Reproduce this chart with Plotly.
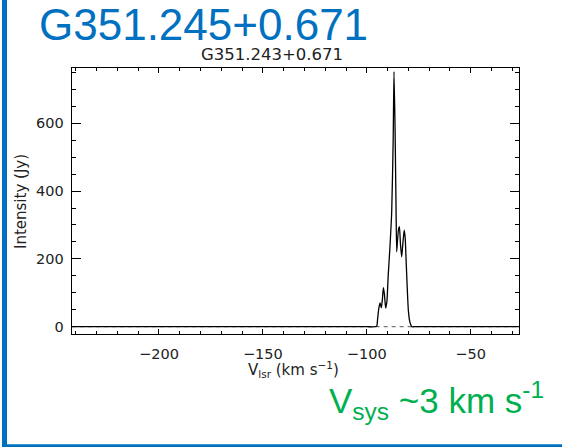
import plotly.graph_objects as go

# ---- data ----
velocity = [-242.0, -200.0, -150.0, -120.0, -100.0, -96.0, -95.2, -94.8, -94.2, -93.6,
            -93.0, -92.5, -92.0, -91.5, -90.9, -90.3, -89.7, -88.8, -88.0, -87.3,
            -86.9, -86.4, -85.9, -85.6, -85.2, -84.7, -84.3, -83.8, -83.2, -82.7,
            -82.0, -81.5, -81.1, -80.5, -80.0, -79.4, -78.8, -78.3, -77.0, -60.0,
            -40.0, -26.6]
intensity = [0.0, 0.0, 0.0, 0.0, 0.0, 0.0, 2.0, 22.0, 55.0, 70.0,
             56.0, 80.0, 115.0, 95.0, 55.0, 75.0, 150.0, 240.0, 340.0, 550.0,
             752.0, 590.0, 344.0, 221.0, 255.0, 288.0, 295.0, 245.0, 206.0, 240.0,
             285.0, 260.0, 200.0, 110.0, 49.0, 18.0, 5.0, 0.0, 0.0, 0.0,
             0.0, 0.0]
x_tickvals = [-200, -150, -100, -50]
x_ticktext = ["\u2212200", "\u2212150", "\u2212100", "\u221250"]
y_tickvals = [0, 200, 400, 600]
y_ticktext = ["0", "200", "400", "600"]
x_range = [-242.0, -26.6]
y_range = [-22.4, 762.0]

W, H = 562, 447
def px(x):
    return x / W
def py(y):
    return 1 - y / H

fig = go.Figure()
fig.add_trace(go.Scatter(x=x_range, y=[0, 0], mode="lines",
                         line=dict(color="#555555", width=1, dash="4px,4px"),
                         hoverinfo="skip", showlegend=False))
fig.add_trace(go.Scatter(x=velocity, y=intensity, mode="lines",
                         line=dict(color="black", width=1.3, shape="spline", smoothing=0.6),
                         showlegend=False))

tickfont = dict(family="DejaVu Sans", size=14.5, color="#222222")
fig.update_layout(
    width=W, height=H,
    margin=dict(l=0, r=0, t=0, b=0),
    paper_bgcolor="white", plot_bgcolor="white",
    xaxis=dict(domain=[px(71.7), px(519.3)], range=x_range, automargin=False,
               tickmode="array", tickvals=x_tickvals, ticktext=x_ticktext,
               ticks="inside", ticklen=5, tickwidth=1, tickcolor="black",
               minor=dict(tickmode="linear", tick0=0, dtick=10, ticks="inside",
                          ticklen=3, tickwidth=1, tickcolor="black"),
               showline=True, linecolor="black", linewidth=1, mirror="ticks",
               showgrid=False, zeroline=False, tickfont=tickfont,
               ticklabelstandoff=6),
    yaxis=dict(domain=[py(334.3), py(68.3)], range=y_range, automargin=False,
               tickmode="array", tickvals=y_tickvals, ticktext=y_ticktext,
               ticks="inside", ticklen=9, tickwidth=1, tickcolor="black",
               minor=dict(tickmode="linear", tick0=0, dtick=50, ticks="inside",
                          ticklen=4.5, tickwidth=1, tickcolor="black"),
               showline=True, linecolor="black", linewidth=1, mirror="ticks",
               showgrid=False, zeroline=False, tickfont=tickfont,
               ticklabelstandoff=4),
)

# blue frame
fig.add_shape(type="rect", xref="paper", yref="paper",
              x0=px(2), x1=px(7), y0=0, y1=1,
              fillcolor="#0070C0", line=dict(width=0), layer="above")
fig.add_shape(type="rect", xref="paper", yref="paper",
              x0=px(2), x1=1, y0=0, y1=py(444.3),
              fillcolor="#0070C0", line=dict(width=0), layer="above")

annos = [
    dict(text="G351.245+0.671", x=px(37), y=py(24), xanchor="left", yanchor="middle",
         font=dict(family="Liberation Sans", size=44, color="#0070C0")),
    dict(text="G351.243+0.671", x=px(272), y=py(54), xanchor="center", yanchor="middle",
         font=dict(family="DejaVu Sans", size=16.5, color="#222222")),
    dict(text="Intensity (Jy)", x=px(21), y=py(202), xanchor="center", yanchor="middle",
         textangle=-90, font=dict(family="DejaVu Sans", size=15, color="#222222")),
    dict(text="V<sub>lsr</sub> (km s<sup>\u22121</sup>)", x=px(293), y=py(369),
         xanchor="center", yanchor="middle",
         font=dict(family="DejaVu Sans", size=15, color="#222222")),
    dict(text="V<sub>sys</sub> ~3 km s<sup>-1</sup>", x=px(546), y=py(400),
         xanchor="right", yanchor="middle",
         font=dict(family="Liberation Sans", size=35, color="#00B050")),
]
for a in annos:
    fig.add_annotation(xref="paper", yref="paper", showarrow=False, **a)

fig.write_html("out.html", config={"displayModeBar": False},
               post_script=["document.body.style.margin='0';document.body.style.overflow='hidden';"])
